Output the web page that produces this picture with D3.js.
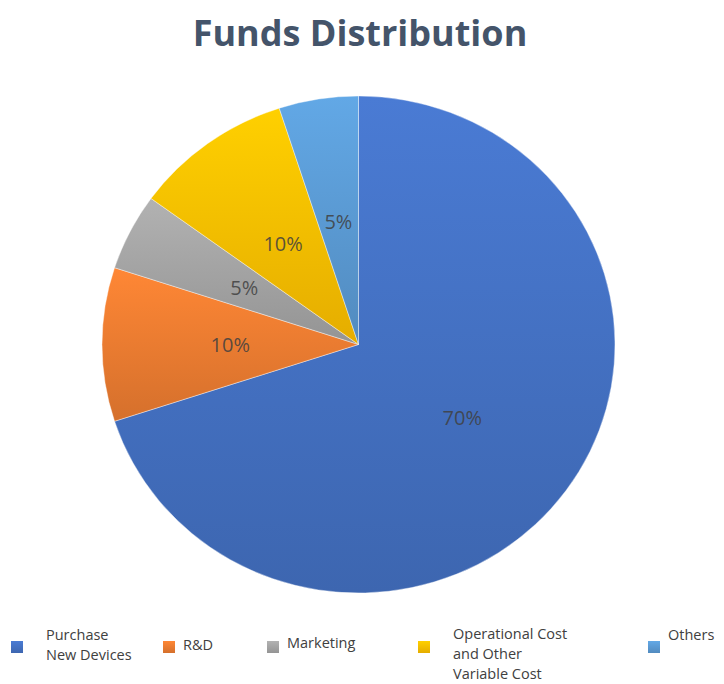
<!DOCTYPE html>
<html>
<head>
  <meta charset="UTF-8">
  <title>Funds Distribution</title>
  <style>
    body { margin: 0; background: #fff; }
    svg { display: block; font-family: "Open Sans", sans-serif; }
  </style>
</head>
<body>
<svg></svg>
<script src="https://d3js.org/d3.v7.min.js"></script>
<script>

let width = 724, height = 684;

// data
let categories = ["Purchase New Devices", "R&D", "Marketing", "Operational Cost and Other Variable Cost", "Others"];
let values = [70, 10, 5, 10, 5];
let colors = ["#4472C4", "#ED7D31", "#A5A5A5", "#FFC000", "#5B9BD5"];
// legend text broken in lines like the original
let legendLines = [["Purchase", "New Devices"], ["R&D"], ["Marketing"], ["Operational Cost", "and Other", "Variable Cost"], ["Others"]];
let legendX = [11, 163, 267, 418, 648];
let legendTextDy = [1, 11, 9, 0, 1];

let svg = d3.select("svg")
    .attr("width", width)
    .attr("height", height);

// title
svg.append("text")
    .attr("x", 360)
    .attr("y", 46)
    .attr("text-anchor", "middle")
    .style("font-size", "36px")
    .style("font-weight", "bold")
    .style("fill", "#44546A")
    .text("Funds Distribution");

let cx = 358.5, cy = 344.5, rx = 256.5, ry = 248.5;

// gradients, lighter on top
let defs = svg.append("defs");
colors.forEach((c, i) => {
    let g = defs.append("linearGradient")
        .attr("id", "grad" + i)
        .attr("x1", 0).attr("y1", 0)
        .attr("x2", 0).attr("y2", 1);
    g.append("stop").attr("offset", "0%").attr("stop-color", d3.color(c).brighter(0.22));
    g.append("stop").attr("offset", "100%").attr("stop-color", d3.color(c).darker(0.3));
});

let pie = d3.pie().sort(null).value(d => d)(values);

let arc = d3.arc().innerRadius(0).outerRadius(rx);

let pieG = svg.append("g")
    .attr("transform", "translate(" + cx + "," + cy + ") scale(1," + (ry / rx) + ")");

pieG.selectAll("path")
    .data(pie)
    .enter()
    .append("path")
    .attr("d", arc)
    .attr("fill", (d, i) => "url(#grad" + i + ")")
    .attr("stroke", "#fff")
    .attr("stroke-opacity", 0.5)
    .attr("stroke-width", 0.8);

// labels
let labelArc = d3.arc().innerRadius(rx * 0.5).outerRadius(rx * 0.5);

svg.append("g")
    .selectAll("text")
    .data(pie)
    .enter()
    .append("text")
    .attr("x", d => cx + labelArc.centroid(d)[0])
    .attr("y", d => cy + labelArc.centroid(d)[1] * ry / rx + 7)
    .attr("text-anchor", "middle")
    .style("font-size", "20px")
    .style("fill", "#404040")
    .style("fill-opacity", 0.85)
    .text(d => d.data + "%");

// legend
let legend = svg.selectAll("g.legend")
    .data(categories)
    .enter().append("g")
    .attr("class", "legend")
    .attr("transform", (d, i) => "translate(" + legendX[i] + ",641)");

legend.append("rect")
    .attr("width", 12)
    .attr("height", 12)
    .attr("fill", (d, i) => "url(#grad" + i + ")");

legend.append("text")
    .attr("x", (d, i) => i == 0 ? 35 : (i == 3 ? 35 : 20))
    .attr("y", (d, i) => -2 + legendTextDy[i])
    .style("font-size", "14.5px")
    .style("fill", "#404040")
    .each(function(d, i) {
        let t = d3.select(this);
        legendLines[i].forEach((line, j) => {
            t.append("tspan")
                .attr("x", t.attr("x"))
                .attr("dy", j == 0 ? 0 : 20)
                .text(line);
        });
    });

</script>
</body>
</html>
